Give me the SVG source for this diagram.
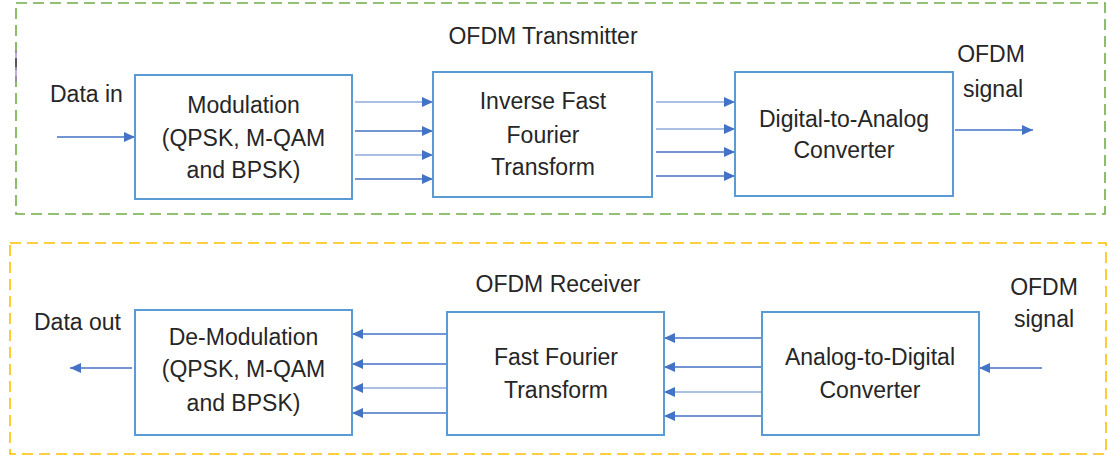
<svg xmlns="http://www.w3.org/2000/svg" width="1107" height="456" viewBox="0 0 1107 456">
<style>
  .frame-tx { fill: none; stroke: #70AD47; stroke-width: 1.6; stroke-dasharray: 11 6; }
  .frame-rx { fill: none; stroke: #FFC000; stroke-width: 1.6; stroke-dasharray: 11 6; }
  .box { fill: #FFFFFF; stroke: #5B9BD5; stroke-width: 2; }
  .lbl { font-family: "Liberation Sans", Arial, sans-serif; font-size: 23px; fill: #262626; text-anchor: middle; }
  .lbl-s { font-family: "Liberation Sans", Arial, sans-serif; font-size: 23px; fill: #262626; text-anchor: start; }
  .arr { fill: none; stroke: #4472C4; stroke-width: 1.4; marker-end: url(#ah); }
  .arr-l { fill: none; stroke: #8FAADC; stroke-width: 1.4; marker-end: url(#ah); }
</style>
<defs>
  <marker id="ah" markerUnits="userSpaceOnUse" markerWidth="11" markerHeight="10" refX="11" refY="5" orient="auto">
    <path d="M0,0 L11,5 L0,10 z" fill="#4472C4"/>
  </marker>
</defs>
<rect width="1107" height="456" fill="#FFFFFF"/>

<g id="frame-transmitter">
  <rect class="frame-tx" x="16" y="3" width="1089" height="211"/>
  <line x1="16" y1="50" x2="16" y2="82" stroke="#A070C8" stroke-width="1.2"/>
  <line x1="16" y1="58" x2="16" y2="67" stroke="#333333" stroke-width="1.2"/>
  <text class="lbl" x="543" y="44">OFDM Transmitter</text>
</g>
<g id="frame-receiver">
  <rect class="frame-rx" x="10" y="243" width="1096" height="211"/>
  <text class="lbl" x="558" y="292">OFDM Receiver</text>
</g>

<g id="connectors">
  <line class="arr" x1="57" y1="137" x2="135" y2="137"/>
  <line class="arr-l" x1="355" y1="102" x2="433" y2="102"/>
  <line class="arr" x1="355" y1="131" x2="433" y2="131"/>
  <line class="arr-l" x1="355" y1="155" x2="433" y2="155"/>
  <line class="arr" x1="355" y1="179" x2="433" y2="179"/>
  <line class="arr-l" x1="656" y1="102" x2="735" y2="102"/>
  <line class="arr-l" x1="656" y1="129" x2="735" y2="129"/>
  <line class="arr" x1="656" y1="152" x2="735" y2="152"/>
  <line class="arr" x1="656" y1="176" x2="735" y2="176"/>
  <line class="arr" x1="955" y1="130" x2="1033" y2="130"/>

  <line class="arr" x1="132" y1="368" x2="70" y2="368"/>
  <line class="arr" x1="448" y1="334" x2="352" y2="334"/>
  <line class="arr" x1="448" y1="364" x2="352" y2="364"/>
  <line class="arr-l" x1="448" y1="388" x2="352" y2="388"/>
  <line class="arr" x1="448" y1="413" x2="352" y2="413"/>
  <line class="arr" x1="762" y1="338" x2="664" y2="338"/>
  <line class="arr" x1="762" y1="367" x2="664" y2="367"/>
  <line class="arr-l" x1="762" y1="392" x2="664" y2="392"/>
  <line class="arr" x1="764" y1="416" x2="664" y2="416"/>
  <line class="arr" x1="1042" y1="368" x2="979" y2="368"/>
</g>

<g id="label-data-in"><text class="lbl-s" x="50" y="102">Data in</text></g>
<g id="label-ofdm-signal-tx">
  <text class="lbl" x="991" y="62">OFDM</text>
  <text class="lbl" x="993" y="97">signal</text>
</g>
<g id="label-data-out"><text class="lbl-s" x="34" y="330">Data out</text></g>
<g id="label-ofdm-signal-rx">
  <text class="lbl" x="1044" y="295">OFDM</text>
  <text class="lbl" x="1044" y="327">signal</text>
</g>

<g id="node-modulation">
  <rect class="box" x="135" y="75" width="217" height="124"/>
  <text class="lbl" x="243.5" y="113">Modulation</text>
  <text class="lbl" x="243.5" y="146">(QPSK, M-QAM</text>
  <text class="lbl" x="243.5" y="178">and BPSK)</text>
</g>
<g id="node-ifft">
  <rect class="box" x="433" y="72" width="219" height="125"/>
  <text class="lbl" x="543" y="109">Inverse Fast</text>
  <text class="lbl" x="543" y="143">Fourier</text>
  <text class="lbl" x="543" y="175">Transform</text>
</g>
<g id="node-dac">
  <rect class="box" x="735" y="72" width="218" height="124"/>
  <text class="lbl" x="844" y="127">Digital-to-Analog</text>
  <text class="lbl" x="844" y="158">Converter</text>
</g>
<g id="node-demodulation">
  <rect class="box" x="135" y="310" width="217" height="125"/>
  <text class="lbl" x="243.5" y="345">De-Modulation</text>
  <text class="lbl" x="243.5" y="377">(QPSK, M-QAM</text>
  <text class="lbl" x="243.5" y="411">and BPSK)</text>
</g>
<g id="node-fft">
  <rect class="box" x="447" y="312" width="217" height="123"/>
  <text class="lbl" x="556" y="365">Fast Fourier</text>
  <text class="lbl" x="556" y="398">Transform</text>
</g>
<g id="node-adc">
  <rect class="box" x="762" y="312" width="217" height="123"/>
  <text class="lbl" x="870" y="365">Analog-to-Digital</text>
  <text class="lbl" x="870" y="398">Converter</text>
</g>
</svg>
